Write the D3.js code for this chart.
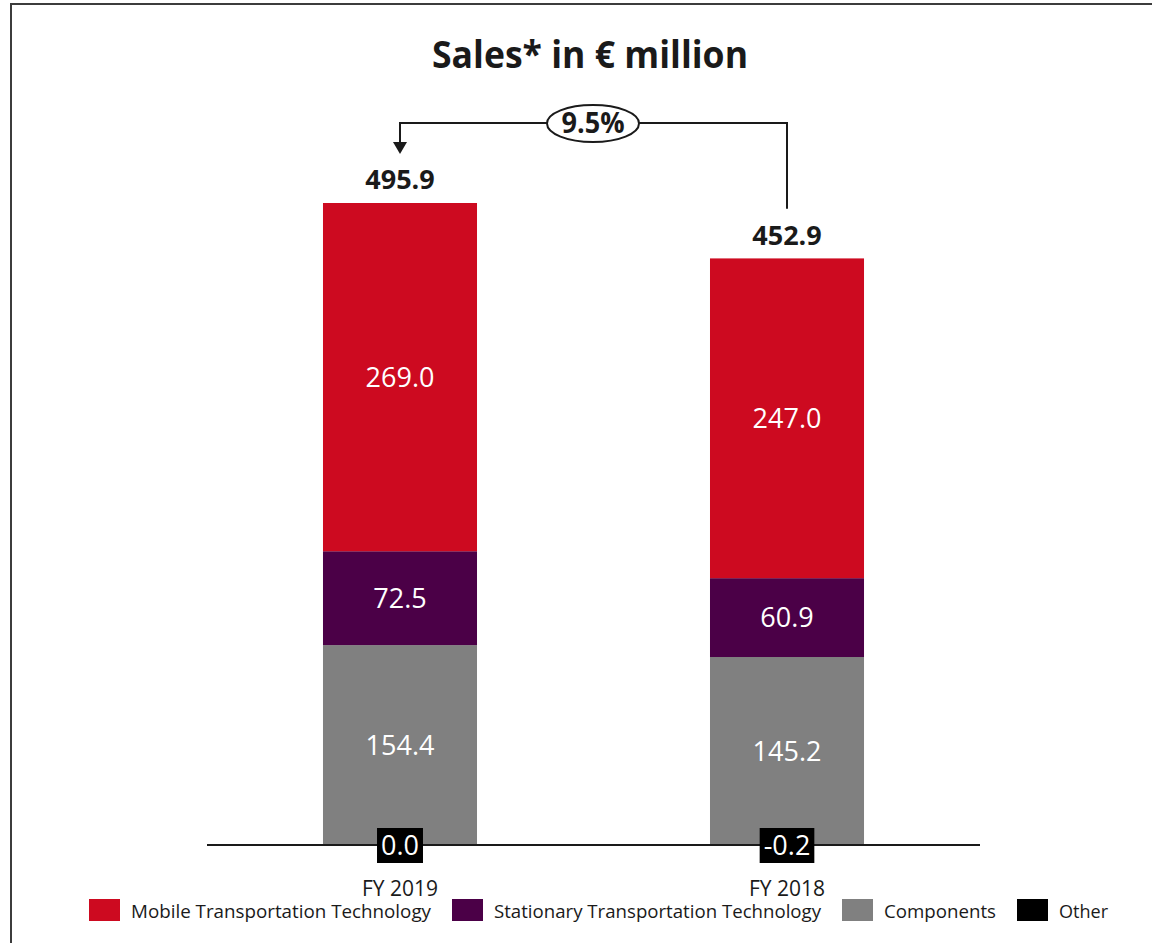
<!DOCTYPE html>
<html>
<head>
<meta charset="utf-8">
<script src="https://cdn.jsdelivr.net/npm/d3@7"></script>
<style>
  html, body { margin: 0; padding: 0; background: #fff; }
  svg { display: block; font-family: "Open Sans", "Noto Sans", sans-serif; }
</style>
</head>
<body>
<svg id="chart" width="1152" height="943"></svg>
<script>
// Fiscal years shown as bars
const categories = ["FY 2019", "FY 2018"];

// Segment sales in € million
const mobile     = [269.0, 247.0];
const stationary = [72.5, 60.9];
const components = [154.4, 145.2];
const other      = [0.0, -0.2];
const totals     = [495.9, 452.9];

// Year-on-year change label
const growthLabel = "9.5%";

const seriesNames = ["Mobile Transportation Technology", "Stationary Transportation Technology", "Components", "Other"];
const seriesColors = {
  "Mobile Transportation Technology": "#CD0A20",
  "Stationary Transportation Technology": "#4B0047",
  "Components": "#808080",
  "Other": "#000000"
};

const rows = categories.map((c, i) => ({
  cat: c,
  "Other": other[i],
  "Components": components[i],
  "Stationary Transportation Technology": stationary[i],
  "Mobile Transportation Technology": mobile[i]
}));

const stackKeys = ["Other", "Components", "Stationary Transportation Technology", "Mobile Transportation Technology"];
const stacked = d3.stack().keys(stackKeys).offset(d3.stackOffsetDiverging)(rows);

const svg = d3.select("#chart");

// frame
svg.append("rect")
  .attr("x", 11).attr("y", 4).attr("width", 1160).attr("height", 960)
  .attr("fill", "none").attr("stroke", "#3c3c3c").attr("stroke-width", 2);

const x = d3.scaleBand().domain(categories).range([207, 980]).paddingInner(0.602).paddingOuter(0.2997);
const y = d3.scaleLinear().domain([0, d3.max(totals)]).range([845, 203]);

// title
svg.append("text")
  .attr("x", 590).attr("y", 68)
  .attr("text-anchor", "middle")
  .attr("font-size", 38).attr("font-weight", 700).attr("fill", "#1a1a1a")
  .attr("textLength", 316).attr("lengthAdjust", "spacingAndGlyphs")
  .text("Sales* in € million");

// stacked bars
const layers = svg.append("g").selectAll("g").data(stacked).join("g")
  .attr("fill", d => seriesColors[d.key]);

layers.selectAll("rect").data(d => d.map(v => ({ v, key: d.key }))).join("rect")
  .attr("x", d => x(d.v.data.cat))
  .attr("width", x.bandwidth())
  .attr("y", d => y(Math.max(d.v[0], d.v[1])))
  .attr("height", d => Math.abs(y(d.v[0]) - y(d.v[1])));

// zero line
svg.append("line")
  .attr("x1", 207).attr("x2", 980)
  .attr("y1", y(0)).attr("y2", y(0))
  .attr("stroke", "#1a1a1a").attr("stroke-width", 2);

// segment value labels
const segLabels = svg.append("g");
stacked.filter(s => s.key !== "Other").forEach(s => {
  s.forEach(v => {
    segLabels.append("text")
      .attr("x", x(v.data.cat) + x.bandwidth() / 2)
      .attr("y", (y(v[0]) + y(v[1])) / 2)
      .attr("dy", "0.36em")
      .attr("text-anchor", "middle")
      .attr("font-size", 27).attr("fill", "#fff")
      .text(d3.format(".1f")(v.data[s.key]));
  });
});

// "Other" labels on black tags at the zero line
categories.forEach((c, i) => {
  const cx = x(c) + x.bandwidth() / 2;
  const txt = d3.format(".1f")(other[i]).replace("−", "-");
  const g = svg.append("g");
  const t = g.append("text")
    .attr("x", cx).attr("y", y(0)).attr("dy", "0.36em")
    .attr("text-anchor", "middle")
    .attr("font-size", 27).attr("fill", "#fff")
    .text(txt);
  const bb = t.node().getBBox();
  g.insert("rect", "text")
    .attr("x", cx - bb.width / 2 - 4).attr("width", bb.width + 8)
    .attr("y", y(0) - 17).attr("height", 35)
    .attr("fill", "#000");
});

// totals
categories.forEach((c, i) => {
  svg.append("text")
    .attr("x", x(c) + x.bandwidth() / 2)
    .attr("y", y(totals[i]) - 14)
    .attr("text-anchor", "middle")
    .attr("font-size", 27).attr("font-weight", 700).attr("fill", "#1a1a1a")
    .text(d3.format(".1f")(totals[i]));
});

// category labels
categories.forEach(c => {
  svg.append("text")
    .attr("x", x(c) + x.bandwidth() / 2)
    .attr("y", 896)
    .attr("text-anchor", "middle")
    .attr("font-size", 21).attr("fill", "#1a1a1a")
    .text(c);
});

// growth bracket from FY 2018 total to FY 2019 total
const xL = x(categories[0]) + x.bandwidth() / 2;
const xR = x(categories[1]) + x.bandwidth() / 2;
const yTop = 123;
svg.append("path")
  .attr("d", `M${xR},${y(totals[1]) - 50}V${yTop}H${xL}V${143}`)
  .attr("fill", "none").attr("stroke", "#1a1a1a").attr("stroke-width", 2);
svg.append("path")
  .attr("d", `M${xL - 7},${142}L${xL + 7},${142}L${xL},${154}Z`)
  .attr("fill", "#1a1a1a");
const ex = 593;
svg.append("ellipse")
  .attr("cx", ex).attr("cy", yTop + 0.5).attr("rx", 46).attr("ry", 18.5)
  .attr("fill", "#fff").attr("stroke", "#1a1a1a").attr("stroke-width", 2);
svg.append("text")
  .attr("x", ex).attr("y", yTop + 10)
  .attr("text-anchor", "middle")
  .attr("font-size", 28).attr("font-weight", 700).attr("fill", "#1a1a1a")
  .attr("textLength", 63).attr("lengthAdjust", "spacingAndGlyphs")
  .text(growthLabel);

// legend
const legendWidths = [300, 327, 112, 49];
let lx = 89;
seriesNames.forEach((name, i) => {
  svg.append("rect")
    .attr("x", lx).attr("y", 899).attr("width", 31).attr("height", 22)
    .attr("fill", seriesColors[name]);
  svg.append("text")
    .attr("x", lx + 42).attr("y", 918)
    .attr("font-size", 19).attr("fill", "#1a1a1a")
    .attr("textLength", legendWidths[i]).attr("lengthAdjust", "spacingAndGlyphs")
    .text(name);
  lx += 42 + legendWidths[i] + 21;
});
</script>
</body>
</html>
